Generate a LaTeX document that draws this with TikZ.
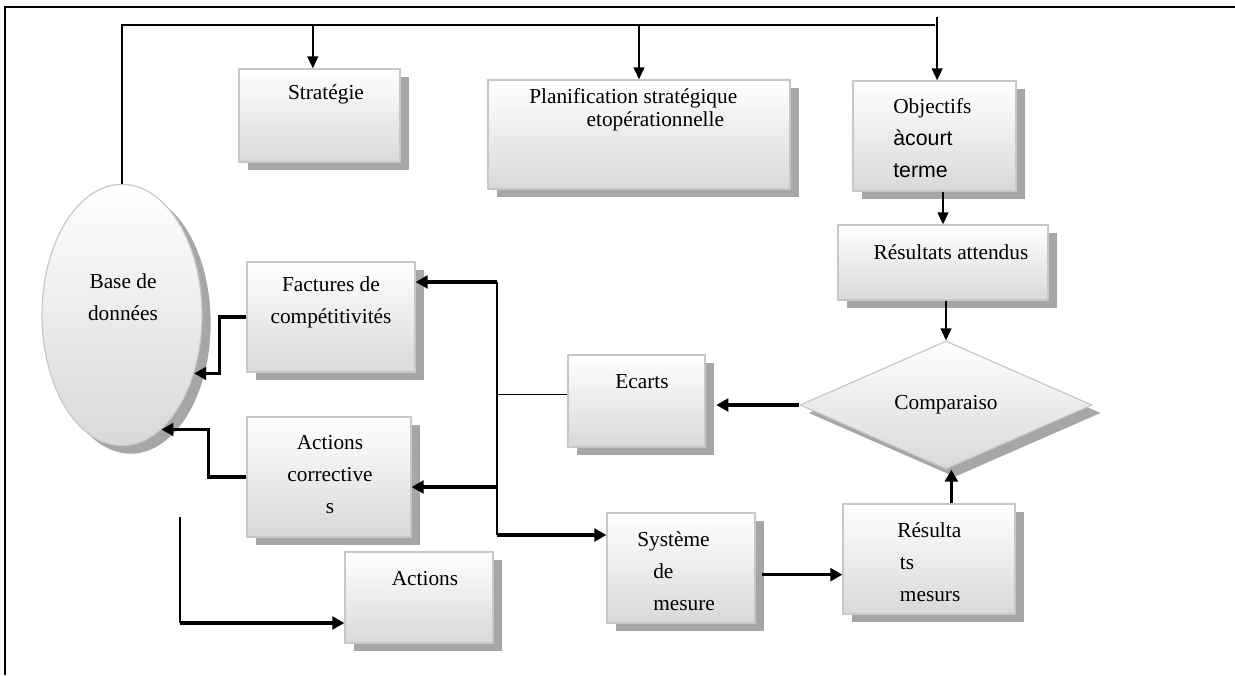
\documentclass[tikz,border=0pt]{standalone}
\usepackage{fontspec}
\setmainfont{Liberation Serif}
\newfontfamily\objsans{Liberation Sans}
\usetikzlibrary{arrows.meta, fit, shadows, shapes.geometric}

\begin{document}
\begin{tikzpicture}[x=0.75pt, y=-0.75pt,
  every node/.style={font=\fontsize{16}{24}\selectfont, inner sep=0pt},
  box/.style={draw=black!22, line width=0.9pt, top color=white, bottom color=black!15,
    drop shadow={shadow xshift=6.5pt, shadow yshift=-6pt, fill=black!35, opacity=1}},
  link/.style={line width=0.8pt},
  arr/.style={line width=1.5pt, -{Triangle[length=9pt, width=8pt]}},
  bigarr/.style={line width=2.3pt, -{Triangle[length=9pt, width=9.5pt]}}]
\useasboundingbox (0,0) rectangle (1235,675);
\draw[line width=1.5pt] (5,675) -- (5,7) -- (1235,7);

\node[box, fit={(239,69) (400,162)}] (strat) {};
\node[box, fit={(488,80) (790,189)}] (plan) {};
\node[box, fit={(853,81) (1016,191)}] (obj) {};
\node[box, fit={(838,225) (1048,300)}] (att) {};
\node[box, diamond, minimum width=219pt, minimum height=96pt] (comp) at (946,405) {Comparaiso};
\node[box, fit={(568,355) (705,447)}] (ecarts) {};
\node[box, fit={(607,513) (755,623)}] (sys) {};
\node[box, fit={(843,504) (1015,614)}] (resm) {};
\node[box, fit={(247,262) (415,372)}] (fact) {};
\node[box, fit={(247,417) (411,537)}] (actc) {};
\node[box, fit={(345,552) (493,643)}] (act) {};
\node[box, ellipse, minimum width=120pt, minimum height=196pt] (base) at (122,315) {};

\node (strat-t) at (326,94) {Stratégie};
\node[align=left, anchor=west, font=\fontsize{16}{17}\selectfont] (plan-t) at (529,110)
  {Planification stratégique\\\hspace*{43pt}etopérationnelle};
\node[align=left, anchor=west] (obj-t) at (893,138) {Objectifs\\{\objsans àcourt}\\{\objsans terme}};
\node (att-t) at (951,252) {Résultats attendus};
\node (ecarts-t) at (642,382) {Ecarts};
\node[align=left, anchor=west] (sys-t) at (637,571) {Système\\\hspace*{12pt}de\\\hspace*{12pt}mesure};
\node[align=left, anchor=west] (resm-t) at (897,562) {Résulta\\\hspace*{2pt}ts\\\hspace*{2pt}mesurs};
\node[align=center] (fact-t) at (331,302) {Factures de\\compétitivités};
\node[align=center] (actc-t) at (330,475) {Actions\\corrective\\s};
\node (act-t) at (425,579) {Actions};
\node[align=center] (base-t) at (123,297) {Base de\\données};

\coordinate (topline) at (0,25);
\coordinate (toptick) at (0,17);
\draw[link] (base.north) |- (obj.north |- topline);
\draw[arr] ([xshift=-5pt]strat.north |- topline) -- ([xshift=-5pt]strat.north);
\draw[arr] (plan.north |- topline) -- (plan.north);
\draw[arr] ([xshift=2pt]obj.north |- toptick) -- ([xshift=2pt]obj.north);
\draw[arr] (att.north |- obj.south) -- (att.north);
\draw[arr] (comp.north |- att.south) -- (comp.north);
\draw[bigarr] (comp.west) -- ([xshift=8pt]comp.west -| ecarts.east);

\coordinate (trunkT) at (497,282);
\coordinate (trunkM) at (497,487);
\coordinate (trunkB) at (497,535);
\draw[link, line width=1.1pt] (trunkT) -- (trunkB);
\draw[link] ([yshift=5pt]ecarts.west) -- ([yshift=5pt]ecarts.west -| trunkT);
\draw[bigarr] (trunkT) -- (trunkT -| fact.east);
\draw[bigarr] (trunkM) -- (trunkM -| actc.east);
\draw[bigarr] (trunkB) -- (trunkB -| sys.west);
\draw[bigarr] ([xshift=5pt, yshift=-5pt]sys.east) -- ([yshift=-5pt]sys.east -| resm.west);
\draw[bigarr] ([xshift=4pt]comp.south |- resm.north) -- ([xshift=4pt]comp.south);

\draw[bigarr] (fact.west) -- ++(-27,0) |- (base.-39);
\draw[bigarr] (actc.west) -- ++(-38,0) |- (base.-71);
\coordinate (actsrc) at (180,517);
\coordinate (actcorner) at (180,623);
\draw[link] (actsrc) -- (actcorner);
\draw[bigarr] (actcorner) -- (actcorner -| act.west);
\end{tikzpicture}
\end{document}
